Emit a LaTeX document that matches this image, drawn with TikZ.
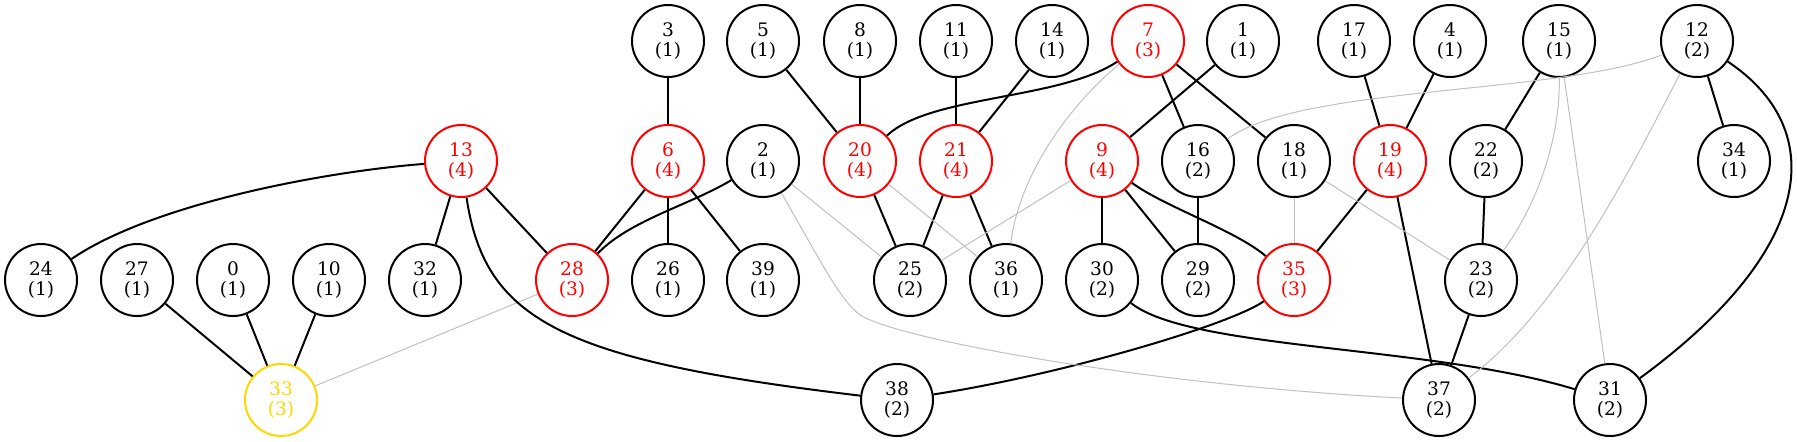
\documentclass[tikz,border=0pt]{standalone}
\usepackage{fontspec}
\setmainfont{DejaVu Serif}
\definecolor{hotred}{RGB}{255,0,0}
\definecolor{goldy}{RGB}{255,215,0}
\definecolor{faint}{RGB}{192,192,192}
\tikzset{
  nd/.style={circle,draw,line width=1pt,minimum size=36pt,inner sep=0pt,align=center,
    font=\fontsize{9.3pt}{10pt}\selectfont},
  hot/.style={nd,draw=hotred,text=hotred},
  gold/.style={nd,draw=goldy,text=goldy},
  tie/.style={line width=1pt},
  weak/.style={draw=faint,line width=0.5pt}
}

\begin{document}
\begin{tikzpicture}[x=0.5pt,y=-0.5pt]
            \useasboundingbox (0,0) rectangle (1797,441);

            \node[nd]  (n3)  at (668,41)  {3\\(1)};
            \node[nd]  (n5)  at (763,41)  {5\\(1)};
            \node[nd]  (n8)  at (860,41)  {8\\(1)};
            \node[nd]  (n11) at (956,41)  {11\\(1)};
            \node[nd]  (n14) at (1052,41) {14\\(1)};
            \node[hot] (n7)  at (1148,41) {7\\(3)};
            \node[nd]  (n1)  at (1243,41) {1\\(1)};
            \node[nd]  (n17) at (1354,41) {17\\(1)};
            \node[nd]  (n4)  at (1450,41) {4\\(1)};
            \node[nd]  (n15) at (1559,41) {15\\(1)};
            \node[nd]  (n12) at (1697,41) {12\\(2)};

            \node[hot] (n13) at (461,161)  {13\\(4)};
            \node[hot] (n6)  at (668,161)  {6\\(4)};
            \node[nd]  (n2)  at (763,161)  {2\\(1)};
            \node[hot] (n20) at (860,161)  {20\\(4)};
            \node[hot] (n21) at (956,161)  {21\\(4)};
            \node[hot] (n9)  at (1102,161) {9\\(4)};
            \node[nd]  (n16) at (1198,161) {16\\(2)};
            \node[nd]  (n18) at (1294,161) {18\\(1)};
            \node[hot] (n19) at (1390,161) {19\\(4)};
            \node[nd]  (n22) at (1486,161) {22\\(2)};
            \node[nd]  (n34) at (1734,161) {34\\(1)};

            \node[nd]  (n24) at (41,280)   {24\\(1)};
            \node[nd]  (n27) at (137,280)  {27\\(1)};
            \node[nd]  (n0)  at (233,280)  {0\\(1)};
            \node[nd]  (n10) at (329,280)  {10\\(1)};
            \node[nd]  (n32) at (425,280)  {32\\(1)};
            \node[hot] (n28) at (572,280)  {28\\(3)};
            \node[nd]  (n26) at (668,280)  {26\\(1)};
            \node[nd]  (n39) at (763,280)  {39\\(1)};
            \node[nd]  (n25) at (910,280)  {25\\(2)};
            \node[nd]  (n36) at (1006,280) {36\\(1)};
            \node[nd]  (n30) at (1102,280) {30\\(2)};
            \node[nd]  (n29) at (1198,280) {29\\(2)};
            \node[hot] (n35) at (1294,280) {35\\(3)};
            \node[nd]  (n23) at (1481,280) {23\\(2)};

            \node[gold] (n33) at (281,400) {33\\(3)};
            \node[nd]  (n38) at (897,400)  {38\\(2)};
            \node[nd]  (n37) at (1439,400) {37\\(2)};
            \node[nd]  (n31) at (1610,400) {31\\(2)};

            \foreach \a/\b in {13/32,13/28,27/33,0/33,10/33,3/6,6/28,6/26,6/39,5/20,8/20,
                11/21,14/21,20/25,21/25,21/36,1/9,7/16,7/18,9/30,9/29,16/29,17/19,4/19,
                19/35,19/37,15/22,22/23,23/37,12/34}{
                \draw[tie] (n\a)--(n\b);
            }
            \foreach \a/\b in {28/33,2/25,20/36,9/25,18/35,18/23,15/31}{
                \draw[weak] (n\a)--(n\b);
            }

            \draw[tie] (n13) .. controls (320,172) and (150,205) .. (n24);
            \draw[tie] (n13) .. controls (485,320) and (560,360) .. (n38);
            \draw[tie] (n2) .. controls (690,205) and (630,220) .. (n28);
            \draw[tie] (n7) .. controls (1060,100) and (930,95) .. (n20);
            \draw[tie] (n9) .. controls (1165,207) and (1235,230) .. (n35);
            \draw[tie] (n35) .. controls (1230,325) and (1060,375) .. (n38);
            \draw[tie] (n30) .. controls (1190,350) and (1430,345) .. (n31);
            \draw[tie] (n12) .. controls (1830,130) and (1815,250) .. (n31);

            \draw[weak] (n2) .. controls (820,260) and (840,300) .. (860,315)
                .. controls (900,340) and (1150,385) .. (n37);
            \draw[weak] (n7) .. controls (1075,100) and (1020,170) .. (n36);
            \draw[weak] (n12) .. controls (1560,95) and (1300,85) .. (n16);
            \draw[weak] (n15) .. controls (1560,150) and (1530,215) .. (n23);
            \draw[weak] (n12) .. controls (1630,170) and (1560,310) .. (n37);
        \end{tikzpicture}
\end{document}
